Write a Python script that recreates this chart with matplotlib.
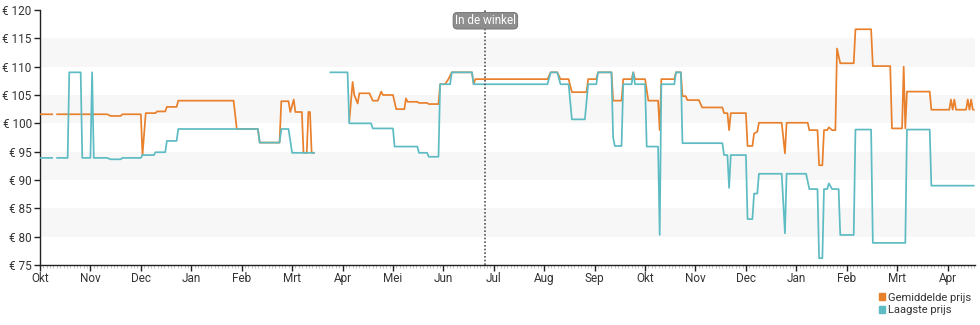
import matplotlib
matplotlib.use('Agg')
import matplotlib.pyplot as plt
import numpy as np
import pandas as pd
from matplotlib.patches import Patch
from matplotlib.ticker import MultipleLocator

plt.rcParams['font.family'] = ['Roboto', 'DejaVu Sans']

nan = np.nan

month_labels = ['Okt', 'Nov', 'Dec', 'Jan', 'Feb', 'Mrt', 'Apr', 'Mei', 'Jun', 'Jul',
                'Aug', 'Sep', 'Okt', 'Nov', 'Dec', 'Jan', 'Feb', 'Mrt', 'Apr']
first_day = '2022-10-01'
last_day = '2024-04-17'
store_day = '2023-06-26'
price_ticks = [75, 80, 85, 90, 95, 100, 105, 110, 115, 120]

# average price ("Gemiddelde prijs")
avg_dates = [
    '2022-10-01', '2022-10-09', '2022-10-10', '2022-10-11', '2022-11-11', '2022-11-13',
    '2022-11-19', '2022-11-20', '2022-12-01', '2022-12-02', '2022-12-04', '2022-12-10',
    '2022-12-11', '2022-12-16', '2022-12-17', '2022-12-23', '2022-12-24', '2023-01-27',
    '2023-01-29', '2023-02-10', '2023-02-11', '2023-02-22', '2023-02-23', '2023-02-27',
    '2023-02-28', '2023-03-02', '2023-03-03', '2023-03-07', '2023-03-08', '2023-03-10',
    '2023-03-11', '2023-03-12', '2023-03-13', '2023-03-15', '2023-03-16',
    '2023-04-05', '2023-04-07', '2023-04-08', '2023-04-10', '2023-04-11', '2023-04-17',
    '2023-04-19', '2023-04-22', '2023-04-24', '2023-04-25', '2023-05-01', '2023-05-03',
    '2023-05-08', '2023-05-09', '2023-05-10', '2023-05-16', '2023-05-17', '2023-05-22',
    '2023-05-23', '2023-05-29', '2023-05-30', '2023-06-02', '2023-06-04', '2023-06-06',
    '2023-06-18', '2023-06-19', '2023-06-20', '2023-08-03', '2023-08-05', '2023-08-09',
    '2023-08-11', '2023-08-16', '2023-08-18', '2023-08-27', '2023-08-28', '2023-09-02',
    '2023-09-03', '2023-09-11', '2023-09-12', '2023-09-17', '2023-09-18', '2023-09-23',
    '2023-09-24', '2023-09-25', '2023-10-01', '2023-10-03', '2023-10-09', '2023-10-10',
    '2023-10-11', '2023-10-19', '2023-10-20', '2023-10-23', '2023-10-24', '2023-10-26',
    '2023-10-27', '2023-11-03', '2023-11-05', '2023-11-17', '2023-11-18', '2023-11-20',
    '2023-11-21', '2023-11-22', '2023-12-01', '2023-12-02', '2023-12-05', '2023-12-06',
    '2023-12-08', '2023-12-09', '2023-12-23', '2023-12-25', '2023-12-26', '2024-01-08',
    '2024-01-09', '2024-01-14', '2024-01-15', '2024-01-17', '2024-01-18', '2024-01-20',
    '2024-01-21', '2024-01-23', '2024-01-25', '2024-01-26', '2024-01-28', '2024-02-05',
    '2024-02-06', '2024-02-15', '2024-02-16', '2024-02-26', '2024-02-27', '2024-03-04',
    '2024-03-05', '2024-03-06', '2024-03-07', '2024-03-21', '2024-03-22', '2024-04-02',
    '2024-04-03', '2024-04-04', '2024-04-05', '2024-04-06', '2024-04-12', '2024-04-13',
    '2024-04-14', '2024-04-15', '2024-04-16', '2024-04-17',
]
avg_prices = [
    101.6, 101.6, nan, 101.6, 101.6, 101.3,
    101.3, 101.6, 101.6, 94.4, 101.8, 101.8,
    102.1, 102.1, 102.9, 102.9, 104.0, 104.0,
    99.0, 99.0, 96.6, 96.6, 103.9, 103.9,
    102.0, 104.2, 102.0, 102.0, 94.8, 94.8,
    102.0, 102.0, 94.8, 94.8, nan,
    100.3, 107.3, 105.0, 103.5, 105.3, 105.3,
    104.0, 104.0, 105.6, 105.0, 105.0, 102.5,
    102.5, 104.4, 103.8, 103.8, 103.6, 103.6,
    103.4, 103.4, 106.9, 106.9, 107.8, 109.0,
    109.0, 106.9, 107.8, 107.8, 109.0, 109.0,
    107.8, 107.8, 105.5, 105.5, 107.8, 107.8,
    109.0, 109.0, 104.0, 104.0, 107.8, 107.8,
    109.0, 107.8, 107.8, 104.0, 104.0, 98.8,
    107.8, 107.8, 109.0, 109.0, 104.8, 104.8,
    104.1, 104.1, 102.8, 102.8, 101.8, 101.8,
    98.8, 101.8, 101.8, 96.0, 96.0, 98.2,
    98.5, 100.1, 100.1, 94.7, 100.1, 100.1,
    98.8, 98.8, 92.6, 92.6, 98.8, 98.8,
    99.3, 98.8, 98.8, 113.2, 110.6, 110.6,
    116.6, 116.6, 110.1, 110.1, 99.1, 99.1,
    110.0, 99.1, 105.6, 105.6, 102.4, 102.4,
    104.2, 102.4, 104.2, 102.4, 102.4, 104.2,
    102.4, 104.2, 102.4, 102.4,
]

# lowest price ("Laagste prijs")
low_dates = [
    '2022-10-01', '2022-10-09', '2022-10-10', '2022-10-11', '2022-10-18', '2022-10-19',
    '2022-10-26', '2022-10-27', '2022-11-01', '2022-11-02', '2022-11-03', '2022-11-11',
    '2022-11-13', '2022-11-19', '2022-11-20', '2022-12-01', '2022-12-02', '2022-12-09',
    '2022-12-10', '2022-12-16', '2022-12-17', '2022-12-23', '2022-12-24', '2023-02-10',
    '2023-02-11', '2023-02-22', '2023-02-23', '2023-02-27', '2023-03-01', '2023-03-15',
    '2023-03-16',
    '2023-03-24', '2023-04-04', '2023-04-05', '2023-04-18', '2023-04-19', '2023-05-01',
    '2023-05-02', '2023-05-16', '2023-05-17', '2023-05-22', '2023-05-23', '2023-05-29',
    '2023-05-30', '2023-06-05', '2023-06-06', '2023-06-18', '2023-06-19', '2023-08-03',
    '2023-08-05', '2023-08-09', '2023-08-11', '2023-08-16', '2023-08-18', '2023-08-26',
    '2023-08-28', '2023-09-02', '2023-09-03', '2023-09-11', '2023-09-12', '2023-09-13',
    '2023-09-17', '2023-09-18', '2023-09-23', '2023-09-24', '2023-09-25', '2023-10-01',
    '2023-10-02', '2023-10-09', '2023-10-10', '2023-10-11', '2023-10-19', '2023-10-20',
    '2023-10-23', '2023-10-24', '2023-11-17', '2023-11-18', '2023-11-20', '2023-11-21',
    '2023-11-22', '2023-12-01', '2023-12-02', '2023-12-05', '2023-12-06', '2023-12-08',
    '2023-12-09', '2023-12-23', '2023-12-25', '2023-12-26', '2024-01-07', '2024-01-09',
    '2024-01-14', '2024-01-15', '2024-01-17', '2024-01-18', '2024-01-20', '2024-01-21',
    '2024-01-23', '2024-01-27', '2024-01-28', '2024-02-05', '2024-02-06', '2024-02-15',
    '2024-02-16', '2024-03-06', '2024-03-07', '2024-03-21', '2024-03-22', '2024-04-17',
]
low_prices = [
    93.9, 93.9, nan, 93.9, 93.9, 109.0,
    109.0, 93.9, 93.9, 109.0, 93.9, 93.9,
    93.65, 93.65, 93.9, 93.9, 94.4, 94.4,
    94.9, 94.9, 96.9, 96.9, 99.0, 99.0,
    96.6, 96.6, 99.0, 99.0, 94.8, 94.8,
    nan,
    109.0, 109.0, 100.0, 100.0, 99.1, 99.1,
    95.9, 95.9, 94.8, 94.8, 94.1, 94.1,
    106.9, 106.9, 109.0, 109.0, 106.9, 106.9,
    109.0, 109.0, 106.9, 106.9, 100.7, 100.7,
    106.9, 106.9, 109.0, 109.0, 97.5, 96.0,
    96.0, 106.9, 106.9, 109.0, 106.9, 106.9,
    95.9, 95.9, 80.3, 106.9, 106.9, 109.0,
    109.0, 96.5, 96.5, 94.4, 94.4, 88.6,
    94.4, 94.4, 83.1, 83.1, 87.6, 87.6,
    91.1, 91.1, 80.6, 91.1, 91.1, 88.4,
    88.4, 76.2, 76.2, 88.4, 88.4, 89.4,
    88.4, 88.4, 80.3, 80.3, 98.9, 98.9,
    78.9, 78.9, 98.9, 98.9, 89.0, 89.0,
]

avg_color = '#e8802c'
low_color = '#5dbcc3'
text_color = '#333333'


def month_pos(dates):
    # months elapsed since the first day, every month the same width
    ts = pd.to_datetime(pd.Series(dates))
    t0 = pd.Timestamp(first_day)
    return ((ts.dt.year - t0.year) * 12 + ts.dt.month - t0.month
            + (ts.dt.day - 1) / ts.dt.days_in_month).to_numpy()


fig = plt.figure(figsize=(9.8, 3.25), dpi=100)
ax = fig.add_axes([40 / 980, 60 / 325, 935 / 980, 255 / 325])

for lo in (80, 90, 100, 110):
    ax.axhspan(lo, lo + 5, color='#f7f7f7', lw=0, zorder=0)

ax.plot(month_pos(avg_dates), avg_prices, color=avg_color, lw=1.25,
        solid_capstyle='butt', zorder=3)
ax.plot(month_pos(low_dates), low_prices, color=low_color, lw=1.25,
        solid_capstyle='butt', zorder=4)

store_x = month_pos([store_day])[0]
ax.axvline(store_x, color='#555555', lw=1.2, ls=(0, (1, 1.2)), zorder=5)
ax.text(store_x, 118.1, 'In de winkel', ha='center', va='center', color='white',
        fontsize=8.5, zorder=6,
        bbox=dict(boxstyle='round,pad=0.15,rounding_size=0.35', fc='#8e8e8e',
                  ec='#6e6e6e', lw=0.6))

ax.set_xlim(0, month_pos([last_day])[0] + 0.01)
ax.set_ylim(75, 120)
ax.set_xticks(np.arange(len(month_labels)))
ax.set_xticklabels(month_labels)
ax.xaxis.set_minor_locator(MultipleLocator(1 / 15))
ax.set_yticks(price_ticks)
ax.set_yticklabels([f'€ {p}' for p in price_ticks])

for side in ('top', 'right'):
    ax.spines[side].set_visible(False)
for side in ('left', 'bottom'):
    ax.spines[side].set_color('#222222')
    ax.spines[side].set_linewidth(1.0)

ax.tick_params(axis='both', which='major', length=4, width=1, color='#222222',
               labelsize=8.5, labelcolor=text_color, pad=1)
ax.tick_params(axis='x', which='minor', length=2, width=0.5, color='#aaaaaa')
ax.tick_params(axis='y', which='major', pad=2)

handles = [Patch(color=avg_color, label='Gemiddelde prijs'),
           Patch(color=low_color, label='Laagste prijs')]
fig.legend(handles=handles, loc='upper right', bbox_to_anchor=(0.998, 0.12),
           frameon=False, fontsize=8, handlelength=0.6, handleheight=0.6,
           handletextpad=0.25, labelspacing=0.25, borderpad=0.1,
           labelcolor=text_color)

fig.savefig('out.png', dpi=100)
